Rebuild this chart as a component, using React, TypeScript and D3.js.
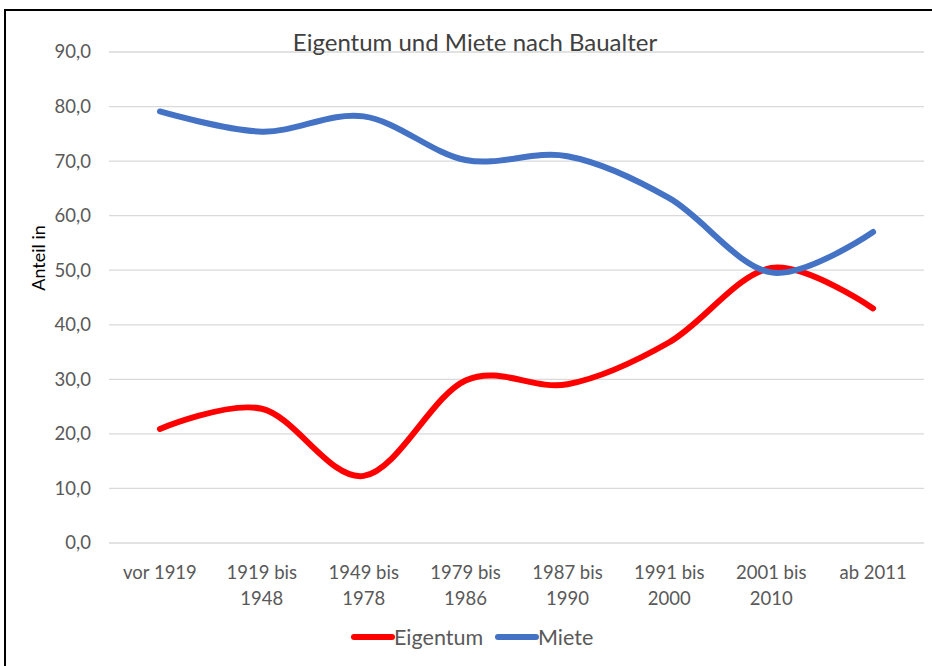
import React, { useRef, useEffect } from "react";
import * as d3 from "d3";

const categories = [
  ["vor 1919"],
  ["1919 bis", "1948"],
  ["1949 bis", "1978"],
  ["1979 bis", "1986"],
  ["1987 bis", "1990"],
  ["1991 bis", "2000"],
  ["2001 bis", "2010"],
  ["ab 2011"],
];
const eigentum = [20.9, 24.6, 12.3, 29.8, 29.1, 36.8, 50.4, 43.0];
const miete = [79.1, 75.4, 78.2, 70.2, 70.9, 63.2, 49.6, 57.0];
const yTicks = [0, 10, 20, 30, 40, 50, 60, 70, 80, 90];

const series = [
  { name: "Eigentum", values: eigentum, color: "#FF0000" },
  { name: "Miete", values: miete, color: "#4472C4" },
];

const width = 932;
const height = 666;
const margin = { top: 52, right: 8, bottom: 123, left: 109 };
const font = "Lato, 'Open Sans', sans-serif";

const App: React.FC = () => {
  const gRef = useRef<SVGGElement | null>(null);

  useEffect(() => {
    if (!gRef.current) return;
    const g = d3.select(gRef.current);
    g.selectAll("*").remove();

    const innerHeight = height - margin.top - margin.bottom;

    const x = d3
      .scaleBand<number>()
      .domain(d3.range(categories.length))
      .range([margin.left, margin.left + 815]);
    const cx = (i: number) => x(i)! + x.bandwidth() / 2;

    const y = d3
      .scaleLinear()
      .domain([0, 90])
      .range([margin.top + innerHeight, margin.top]);

    // frame
    g.append("rect")
      .attr("x", 5)
      .attr("y", 10)
      .attr("width", width + 20)
      .attr("height", height + 20)
      .attr("fill", "white")
      .attr("stroke", "#000")
      .attr("stroke-width", 2);

    // gridlines
    g.selectAll(".grid")
      .data(yTicks)
      .join("line")
      .attr("x1", margin.left)
      .attr("x2", margin.left + 815)
      .attr("y1", (d) => y(d))
      .attr("y2", (d) => y(d))
      .attr("stroke", "#D9D9D9")
      .attr("stroke-width", 1.3);

    // y tick labels
    g.selectAll(".ytick")
      .data(yTicks)
      .join("text")
      .attr("x", 91)
      .attr("y", (d) => y(d))
      .attr("dy", "0.35em")
      .attr("text-anchor", "end")
      .attr("font-family", font)
      .attr("font-size", 18.5)
      .attr("fill", "#595959")
      .text((d) => d3.format(".1f")(d).replace(".", ","));

    // x labels
    const xl = g
      .selectAll(".xtick")
      .data(categories)
      .join("text")
      .attr("text-anchor", "middle")
      .attr("font-family", font)
      .attr("font-size", 18.5)
      .attr("fill", "#595959");
    xl.each(function (lines, i) {
      d3.select(this)
        .selectAll("tspan")
        .data(lines)
        .join("tspan")
        .attr("x", cx(i))
        .attr("y", (_, j) => 579 + j * 26)
        .text((t) => t);
    });

    // title
    g.append("text")
      .attr("x", 475)
      .attr("y", 51)
      .attr("text-anchor", "middle")
      .attr("font-family", font)
      .attr("font-size", 24)
      .attr("fill", "#404040")
      .text("Eigentum und Miete nach Baualter");

    // y axis title
    g.append("text")
      .attr("transform", `translate(45,258) rotate(-90)`)
      .attr("text-anchor", "middle")
      .attr("font-family", font)
      .attr("font-size", 18)
      .attr("fill", "#000")
      .text("Anteil in");

    const line = d3
      .line<number>()
      .x((_, i) => cx(i))
      .y((d) => y(d))
      .curve(d3.curveCardinal.tension(0));

    g.selectAll(".series")
      .data(series)
      .join("path")
      .attr("d", (s) => line(s.values))
      .attr("fill", "none")
      .attr("stroke", (s) => s.color)
      .attr("stroke-width", 6)
      .attr("stroke-linecap", "round")
      .attr("stroke-linejoin", "round");

    // legend
    const legendX = [354, 498];
    series.forEach((s, i) => {
      g.append("line")
        .attr("x1", legendX[i])
        .attr("x2", legendX[i] + 38)
        .attr("y1", 637)
        .attr("y2", 637)
        .attr("stroke", s.color)
        .attr("stroke-width", 6)
        .attr("stroke-linecap", "round");
      g.append("text")
        .attr("x", legendX[i] + 40)
        .attr("y", 637)
        .attr("dy", "0.35em")
        .attr("font-family", font)
        .attr("font-size", 21.5)
        .attr("fill", "#595959")
        .text(s.name);
    });
  }, []);

  return (
    <svg
      width={width}
      height={height}
      style={{ position: "absolute", left: 0, top: 0 }}
    >
      <g ref={gRef} />
    </svg>
  );
};

export default App;
